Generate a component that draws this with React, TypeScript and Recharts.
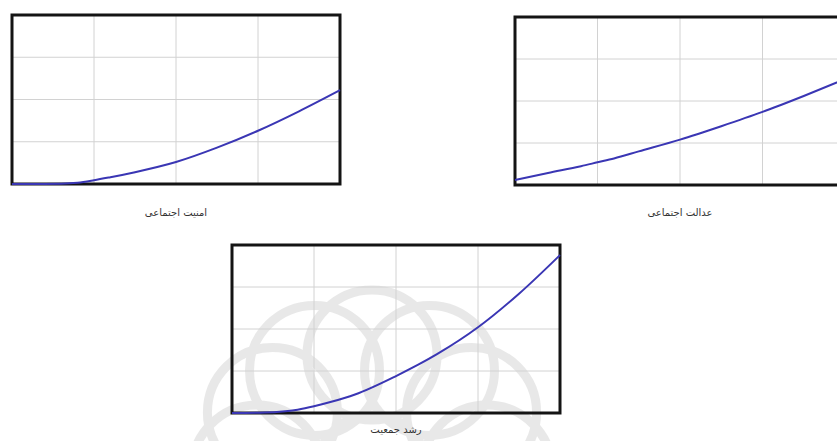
import { CartesianGrid, Line, LineChart, ReferenceArea, XAxis, YAxis } from "recharts";

// x positions along each plot (fraction of the box width)
const xs = [0, 0.1, 0.2, 0.25, 0.3, 0.375, 0.5, 0.625, 0.75, 0.875, 1];
const gridTicks = [0, 0.25, 0.5, 0.75, 1];

// values (fraction of the box height)
const amniyat = [0, 0, 0.008, 0.022, 0.04, 0.07, 0.13, 0.215, 0.315, 0.43, 0.555];
const edalat = [0.03, 0.072, 0.112, 0.135, 0.158, 0.2, 0.27, 0.35, 0.435, 0.53, 0.63];
const roshd = [0, 0.003, 0.02, 0.04, 0.065, 0.11, 0.22, 0.35, 0.51, 0.71, 0.94];

const captions = ["امنیت اجتماعی", "عدالت اجتماعی", "رشد جمعیت"];

type PanelProps = {
  values: number[];
  caption: string;
  left: number;
  top: number;
  w: number;
  h: number;
  captionTop: number;
};

function Panel({ values, caption, left, top, w, h, captionTop }: PanelProps) {
  const data = xs.map((x, i) => ({ x, y: values[i] }));
  return (
    <>
      <div style={{ position: "absolute", left: left - 2, top: top - 2 }}>
        <LineChart width={w + 4} height={h + 4} data={data} margin={{ top: 2, right: 2, bottom: 2, left: 2 }}>
          <XAxis type="number" dataKey="x" domain={[0, 1]} ticks={gridTicks} hide />
          <YAxis type="number" domain={[0, 1]} ticks={gridTicks} hide />
          <CartesianGrid stroke="#d2d2d2" strokeWidth={1} />
          <ReferenceArea x1={0} x2={1} y1={0} y2={1} fill="none" stroke="#141414" strokeWidth={3} ifOverflow="visible" />
          <Line type="monotone" dataKey="y" stroke="#3a36b4" strokeWidth={2} dot={false} isAnimationActive={false} />
        </LineChart>
      </div>
      <div
        style={{
          position: "absolute",
          left: left,
          width: w,
          top: captionTop,
          textAlign: "center",
          direction: "rtl",
          fontFamily: "'DejaVu Sans', sans-serif",
          fontSize: 10,
          color: "#333",
        }}
      >
        {caption}
      </div>
    </>
  );
}

// faint background emblem behind the lower chart
function Watermark() {
  const cx = 372;
  const cy = 470;
  const angles = [-180, -150, -120, -90, -60, -30, 0];
  return (
    <svg width={837} height={441} style={{ position: "absolute", left: 0, top: 0 }}>
      <g fill="none" stroke="#dadada" strokeWidth={9} opacity={0.6}>
        {angles.map((a) => {
          const r = (a * Math.PI) / 180;
          return <circle key={a} cx={cx + 115 * Math.cos(r)} cy={cy + 115 * Math.sin(r)} r={65} />;
        })}
        <circle cx={cx} cy={cy} r={55} />
      </g>
    </svg>
  );
}

export default function App() {
  return (
    <div style={{ position: "absolute", left: 0, top: 0, width: 837, height: 441, overflow: "hidden", background: "#fff" }}>
      <Watermark />
      <Panel values={amniyat} caption={captions[0]} left={12} top={15} w={328} h={169} captionTop={207} />
      <Panel values={edalat} caption={captions[1]} left={515} top={17} w={330} h={168} captionTop={207} />
      <Panel values={roshd} caption={captions[2]} left={232} top={245} w={328} h={168} captionTop={424} />
    </div>
  );
}
